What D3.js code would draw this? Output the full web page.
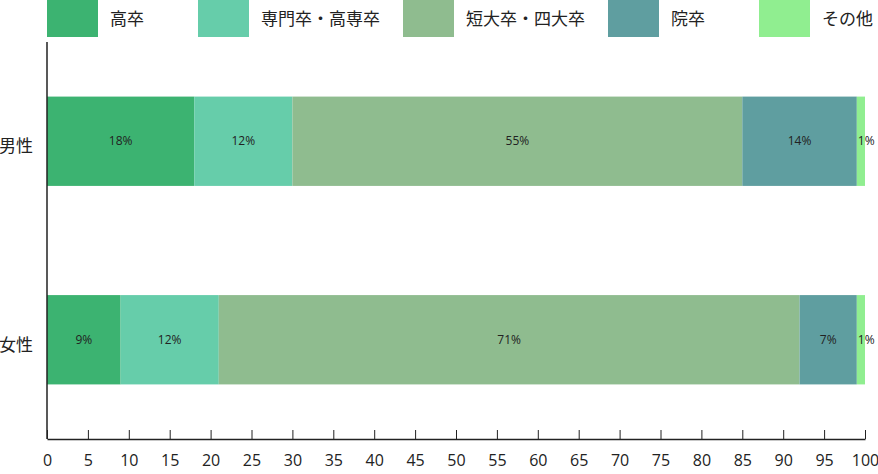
<!DOCTYPE html>
<html><head><meta charset="utf-8">
<script src="https://cdn.jsdelivr.net/npm/d3@7"></script>
<style>body{margin:0;background:#fff}svg{display:block}</style>
</head><body>
<svg id="c" width="878" height="474"></svg>
<script>
const categories = ["男性", "女性"];
const seriesNames = ["高卒", "専門卒・高専卒", "短大卒・四大卒", "院卒", "その他"];
const colors = ["#3CB371", "#66CDAA", "#8FBC8F", "#5F9EA0", "#90EE90"];
const maleValues = [18, 12, 55, 14, 1];
const femaleValues = [9, 12, 71, 7, 1];
const xTicks = [0,5,10,15,20,25,30,35,40,45,50,55,60,65,70,75,80,85,90,95,100];

(function(){
const values = [maleValues, femaleValues];
const svg = d3.select("#c");
const mLeft = 47, mRight = 865, mTop = 42, mBottom = 439;
const jpFont = "'Noto Sans CJK JP', sans-serif";
const numFont = "'Open Sans', sans-serif";

const x = d3.scaleLinear().domain([0, 100]).range([mLeft, mRight]);
const y = d3.scaleBand().domain(categories).range([mTop, mBottom]).paddingInner(0.55).paddingOuter(0.275);

categories.forEach((cat, ci) => {
  let cum = 0;
  const g = svg.append("g");
  values[ci].forEach((v, si) => {
    const x0 = cum, x1 = cum + v; cum = x1;
    g.append("rect").attr("x", x(x0)).attr("y", y(cat))
      .attr("width", x(x1) - x(x0)).attr("height", y.bandwidth())
      .attr("fill", colors[si]);
    const isTiny = v < 3;
    g.append("text").attr("x", isTiny ? x(x0) + 1 : (x(x0) + x(x1)) / 2)
      .attr("y", y(cat) + y.bandwidth() / 2).attr("dy", "0.35em")
      .attr("text-anchor", isTiny ? "start" : "middle")
      .attr("font-family", numFont).attr("font-size", 12).attr("fill", "#222")
      .text(v + "%");
  });
});

svg.append("line").attr("x1", mLeft).attr("x2", mLeft).attr("y1", mTop).attr("y2", mBottom)
  .attr("stroke", "#222").attr("stroke-width", 1.5);
categories.forEach(cat => {
  svg.append("text").attr("x", 33).attr("y", y(cat) + y.bandwidth() / 2 + 5)
    .attr("dy", "0.35em").attr("text-anchor", "end")
    .attr("font-family", jpFont).attr("font-size", 17).attr("fill", "#222").text(cat);
});

const xa = svg.append("g").attr("transform", `translate(0,${mBottom})`)
  .call(d3.axisBottom(x).tickValues(xTicks).tickSizeInner(-9).tickSizeOuter(0).tickPadding(14));
xa.select(".domain").attr("stroke", "#222").attr("stroke-width", 1.5);
xa.selectAll(".tick line").attr("stroke", "#222");
xa.selectAll(".tick text").attr("font-family", numFont).attr("font-size", 16).attr("fill", "#222")
  .attr("dy", "0.71em").attr("y", 16);

const lg = svg.append("g");
let lx = mLeft;
seriesNames.forEach((name, i) => {
  const it = lg.append("g").attr("transform", `translate(${lx},0)`);
  it.append("rect").attr("x", 0).attr("y", 0).attr("width", 51).attr("height", 37).attr("fill", colors[i]);
  const t = it.append("text").attr("x", 63).attr("y", 19).attr("dy", "0.35em")
    .attr("font-family", jpFont).attr("font-size", 17).attr("fill", "#222").text(name);
  const w = t.node().getComputedTextLength();
  lx += Math.max(63 + w + 23, 151);
});
})();
</script>
</body></html>
